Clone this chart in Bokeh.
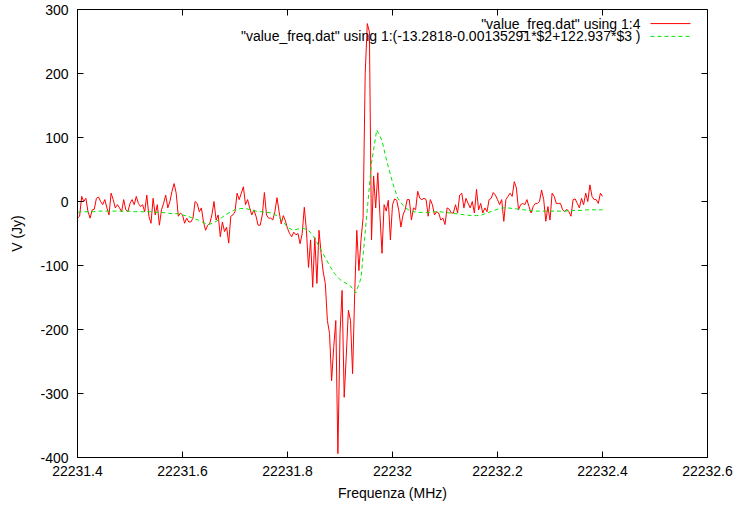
from bokeh.plotting import figure
from bokeh.models import FixedTicker, CustomJSTickFormatter, Label, Arrow, Range1d
from bokeh.embed import file_html
from bokeh.resources import INLINE

FONT = "Liberation Sans"

# ---- data ----
freq_start = 22231.40
obs_step = 0.004      # MHz between observed channels
model_step = 0.01     # MHz between model samples

v_obs = [
    -26, -23, 8, 0, 5, -16, -26, -13, -12, 5,
    7, 0, -5, 3, -10, -21, 13, 3, -10, -5,
    -10, -16, 3, -13, -16, -3, 3, -5, 8, -3,
    -8, -5, -16, 10, -23, -34, 5, -21, -5, -37,
    -13, -3, 10, -10, 0, 16, 28, 13, -23, -18,
    -21, -34, -26, -32, -32, -26, 0, -3, -16, -10,
    -32, -45, -37, -34, -21, 0, -29, -21, -55, -32,
    -47, -40, -65, -23, -21, -16, 13, 3, 13, 23,
    -5, 3, -10, -21, -13, -23, -37, -37,
    -21, 14, -21, -26, -26, -29, -16, 6, -16,
    -35, -22, -30, -42, -50, -55, -48, -52, -50, -66, -50, -9, -45, -103, -60,
    -134, -56, -128, -45, -81, -110, -128, -186, -206, -280,
    -228, -186, -394, -206, -139, -306, -240, -170, -186, -269,
    -144, -45, -108, -60, -25, 200, 278, 265, -60, 40,
    -10, 45, -20, -81, -5, -15, 2, -60, -5, 4,
    2, -14, -40,
    -21, -13, 3, 3, -29, -10, -13, 16, 5,
    3, 5, 3, -23, 3, -5, -21, -16, -18,
    -29, -26, -36, -10, -12, -18, -18, -5, -18,
    10, 13, -10, 5, -3, -10, 0, -18, 19,
    -13, -3, -18, -10, -16, 3, 5, 14,
    10, 3, -5, 3, -31, 3, 8, 13, 8,
    31, 21, -13, -5, -3, -5, 3, -8, -18,
    -8, -3, -3, 0, 18, 3, -31, -8, -29,
    13, 8, -3, -3, -3, -13, -16, -12, -16,
    -23, 3, 4, -3, -10, 5, -5, 13, 0,
    26, 8, 3, 3, -3, 13, 8,
]

v_model = [
    -17, -16, -16, -16, -15, -15, -15, -15, -15, -15,
    -15, -16, -16, -16, -16, -17, -17, -18, -19, -19,
    -21, -23, -26, -29, -33, -36, -33, -28, -22, -17,
    -13, -11, -11, -13, -15, -16, -17, -18, -22, -30,
    -40, -45, -43, -42, -45, -55, -70, -85, -100, -113,
    -122, -127, -132, -143, -120, -30, 60, 112, 95, 60,
    30, 5, -6, -13, -16, -17, -17, -17, -16, -16,
    -17, -18, -19, -20, -21, -22, -22, -21, -18, -15,
    -12, -10, -10, -11, -12, -13, -14, -15, -15, -15,
    -15, -15, -15, -15, -14, -14, -14, -13, -13, -13,
    -13,
]

x_ticks = [22231.4, 22231.6, 22231.8, 22232.0, 22232.2, 22232.4, 22232.6]
y_ticks = [-400, -300, -200, -100, 0, 100, 200, 300]

legend_labels = [
    '"value_freq.dat" using 1:4',
    '"value_freq.dat" using 1:(-13.2818-0.00135291*$2+122.937*$3 )',
]

freq_obs = [freq_start + i * obs_step for i in range(len(v_obs))]
freq_model = [freq_start + i * model_step for i in range(len(v_model))]

RED = "#ff0000"
GREEN = "#00e600"

W, H = 733, 506
LEFT, TOP, FRAME_W, FRAME_H = 77, 9, 630, 448

p = figure(width=W, height=H, output_backend="svg", toolbar_location=None,
           x_range=Range1d(x_ticks[0], x_ticks[-1]),
           y_range=Range1d(y_ticks[0], y_ticks[-1]),
           min_border_left=LEFT, min_border_right=W - LEFT - FRAME_W,
           min_border_top=TOP, min_border_bottom=H - TOP - FRAME_H,
           x_axis_label="Frequenza (MHz)", y_axis_label="V (Jy)")

p.background_fill_color = "white"
p.border_fill_color = "white"
p.xgrid.visible = False
p.ygrid.visible = False
p.outline_line_color = "black"
p.outline_line_width = 1

fmt = CustomJSTickFormatter(code="return String(Math.round(tick*10)/10);")

for ax, ticks in ((p.xaxis[0], x_ticks), (p.yaxis[0], y_ticks)):
    ax.ticker = FixedTicker(ticks=ticks)
    ax.formatter = fmt
    ax.minor_tick_line_color = None
    ax.major_tick_in = 6
    ax.major_tick_out = 0
    ax.axis_line_color = "black"
    ax.major_tick_line_color = "black"
    ax.major_label_text_font = FONT
    ax.major_label_text_font_size = "14px"
    ax.major_label_text_color = "black"
    ax.axis_label_text_font = FONT
    ax.axis_label_text_font_size = "14px"
    ax.axis_label_text_font_style = "normal"
    ax.axis_label_text_color = "black"

p.xaxis[0].major_label_standoff = 8
p.xaxis[0].axis_label_standoff = 6
p.yaxis[0].major_label_standoff = 9
p.yaxis[0].axis_label_standoff = 12

# mirrored inward ticks on the top and right edges (6 px long)
dx = 6 * (x_ticks[-1] - x_ticks[0]) / FRAME_W
dy = 6 * (y_ticks[-1] - y_ticks[0]) / FRAME_H
p.segment(x0=x_ticks, y0=[y_ticks[-1]] * len(x_ticks),
          x1=x_ticks, y1=[y_ticks[-1] - dy] * len(x_ticks),
          line_color="black", line_width=1)
p.segment(x0=[x_ticks[-1]] * len(y_ticks), y0=y_ticks,
          x1=[x_ticks[-1] - dx] * len(y_ticks), y1=y_ticks,
          line_color="black", line_width=1)

p.line(freq_obs, v_obs, line_color=RED, line_width=1)
p.line(freq_model, v_model, line_color=GREEN, line_width=1, line_dash="4 3")

# gnuplot-style key: text right-aligned, sample line on the right
key_text_x = 22232.4724
key_x0, key_x1 = 22232.4914, 22232.5676
key_rows = [278, 258]
for label, y, col, dash in zip(legend_labels, key_rows, [RED, GREEN], ["solid", "4 3"]):
    p.add_layout(Label(x=key_text_x, y=y, text=label, text_align="right",
                       text_baseline="middle", text_font=FONT,
                       text_font_size="14px", text_color="black"))
    p.add_layout(Arrow(end=None, x_start=key_x0, y_start=y, x_end=key_x1, y_end=y,
                       line_color=col, line_width=1, line_dash=dash))

open("out.html", "w").write(file_html(p, INLINE))
